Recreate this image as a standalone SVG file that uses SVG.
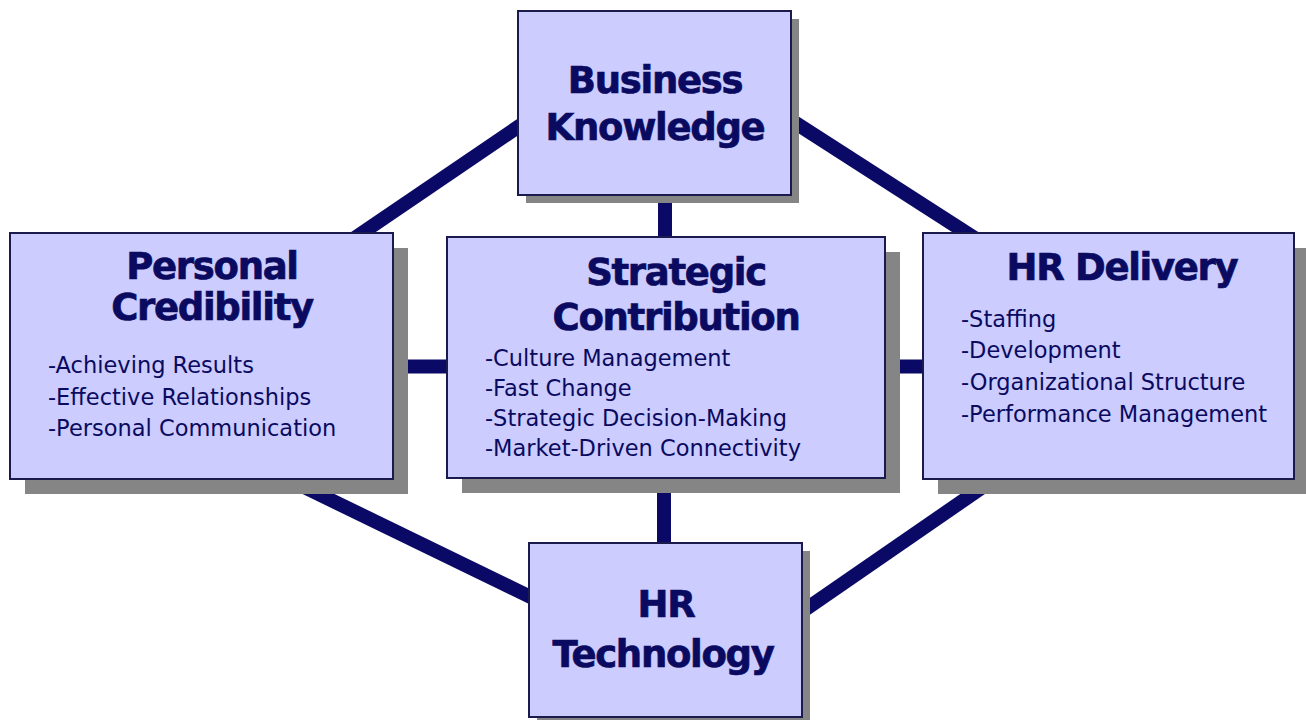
<svg xmlns="http://www.w3.org/2000/svg" width="1306" height="720" viewBox="0 0 1306 720">
<style>
.shadow{fill:#858585}
.box{fill:#ccccff;stroke:#1a1a4d;stroke-width:2}
.title{font-family:"DejaVu Sans",Verdana,sans-serif;font-weight:bold;font-size:37px;letter-spacing:-1.3px;fill:#0a0a60;stroke:#0a0a60;stroke-width:0.7;text-anchor:middle}
.item{font-family:"DejaVu Sans",Verdana,sans-serif;font-size:22.5px;fill:#0a0a60}
.conn line{stroke:#0a0a66;stroke-width:14}
</style>
<rect width="1306" height="720" fill="#ffffff"/>
<g id="connectors" class="conn">
<line x1="340" y1="248" x2="540" y2="112"/>
<line x1="780" y1="113" x2="990" y2="248"/>
<line x1="300" y1="485" x2="545" y2="604"/>
<line x1="990" y1="482" x2="790" y2="620"/>
<line x1="400" y1="366.5" x2="460" y2="366.5"/>
<line x1="880" y1="366.5" x2="930" y2="366.5"/>
<line x1="665" y1="190" x2="665" y2="245"/>
<line x1="664" y1="480" x2="664" y2="550"/>
</g>
<g id="business-knowledge">
<rect class="shadow" x="526" y="19" width="273" height="184"/>
<rect class="box" x="518" y="11" width="273" height="184"/>
<text class="title" x="655" y="93">Business</text>
<text class="title" x="655" y="140">Knowledge</text>
</g>
<g id="personal-credibility">
<rect class="shadow" x="25" y="248" width="383" height="246"/>
<rect class="box" x="10" y="233" width="383" height="246"/>
<text class="title" x="212" y="279">Personal</text>
<text class="title" x="212" y="320">Credibility</text>
<text class="item" x="48" y="373">-Achieving Results</text>
<text class="item" x="48" y="405">-Effective Relationships</text>
<text class="item" x="48" y="436">-Personal Communication</text>
</g>
<g id="strategic-contribution">
<rect class="shadow" x="462" y="252" width="438" height="241"/>
<rect class="box" x="447" y="237" width="438" height="241"/>
<text class="title" x="676" y="285">Strategic</text>
<text class="title" x="676" y="330">Contribution</text>
<text class="item" x="485" y="366">-Culture Management</text>
<text class="item" x="485" y="396">-Fast Change</text>
<text class="item" x="485" y="426">-Strategic Decision-Making</text>
<text class="item" x="485" y="456">-Market-Driven Connectivity</text>
</g>
<g id="hr-delivery">
<rect class="shadow" x="938" y="248" width="371" height="246"/>
<rect class="box" x="923" y="233" width="371" height="246"/>
<text class="title" x="1122" y="280">HR Delivery</text>
<text class="item" x="961" y="327">-Staffing</text>
<text class="item" x="961" y="358">-Development</text>
<text class="item" x="961" y="390">-Organizational Structure</text>
<text class="item" x="961" y="422">-Performance Management</text>
</g>
<g id="hr-technology">
<rect class="shadow" x="537" y="551" width="273" height="174"/>
<rect class="box" x="529" y="543" width="273" height="174"/>
<text class="title" x="666" y="617">HR</text>
<text class="title" x="663" y="667">Technology</text>
</g>
</svg>
